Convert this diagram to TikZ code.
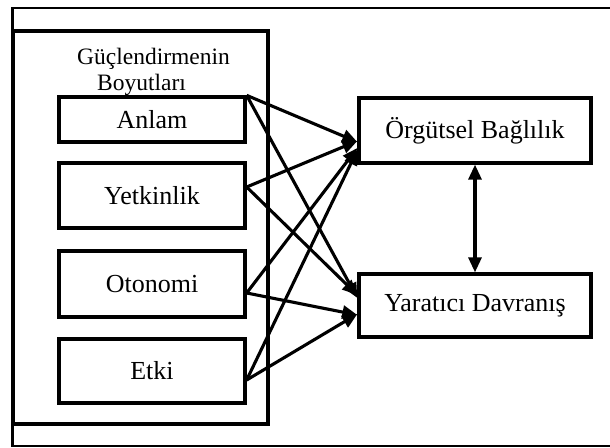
\documentclass[tikz,border=0pt]{standalone}
\usepackage{fontspec}
\setmainfont{Liberation Serif}
\usetikzlibrary{arrows.meta}
\begin{document}
\begin{tikzpicture}[x=1pt,y=-1pt,
  dimbox/.style={draw,line width=3.3pt,minimum width=186pt,inner sep=0pt,font=\fontsize{26}{30}\selectfont},
  outbox/.style={draw,line width=3.3pt,minimum width=232pt,inner sep=0pt,font=\fontsize{26}{30}\selectfont},
  tipx/.tip={Triangle[length=15pt,width=13pt]},
  conn/.style={line width=3.1pt,-tipx},
  heading/.style={inner sep=0pt,font=\fontsize{23.5}{27}\selectfont}]
\useasboundingbox (0,0) rectangle (610,447);
% outer frame
\draw[line width=2.8pt] (611,8) -- (12.5,8) -- (12.5,446) -- (611,446);
% inner frame
\draw[line width=3.3pt] (13,31) rectangle (268,424);
\node[heading,anchor=base west] (h1) at (77,64) {Güçlendirmenin};
\node[heading,anchor=base west] (h2) at (97,90) {Boyutları};
% dimension boxes
\node[dimbox,minimum height=45pt] (anlam) at (152,119.5) {Anlam};
\node[dimbox,minimum height=65pt] (yet) at (152,195.5) {Yetkinlik};
\node[dimbox,minimum height=66pt] (oto) at (152,284) {Otonomi};
\node[dimbox,minimum height=64pt] (etki) at (152,371) {Etki};
% outcome boxes
\node[outbox,minimum height=65pt] (org) at (475,130.5) {Örgütsel Bağlılık};
\node[outbox,minimum height=63pt] (yar) at (475,305.5) {Yaratıcı Davranış};
% connectors
\draw[conn] (anlam.north east) -- ([yshift=-11.5pt]org.west);
\draw[conn] (anlam.north east) -- ([yshift=7.5pt]yar.west);
\draw[conn] ([yshift=8.5pt]yet.east) -- ([yshift=-10.5pt]org.west);
\draw[conn] ([yshift=8.5pt]yet.east) -- ([yshift=10.5pt]yar.west);
\draw[conn] ([yshift=-9pt]oto.east) -- ([yshift=-17.5pt]org.west);
\draw[conn] ([yshift=-9pt]oto.east) -- ([yshift=-9.5pt]yar.west);
\draw[conn] ([yshift=-9pt]etki.east) -- ([yshift=-19.5pt]org.west);
\draw[conn] ([yshift=-9pt]etki.east) -- ([yshift=-8.5pt]yar.west);
\draw[line width=3.1pt,tipx-tipx] (org.south) -- (yar.north);
\end{tikzpicture}
\end{document}
